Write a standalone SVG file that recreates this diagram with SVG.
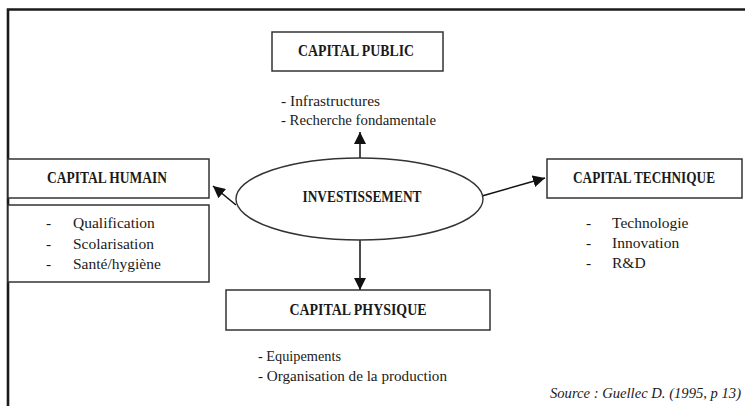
<svg xmlns="http://www.w3.org/2000/svg" width="745" height="406" viewBox="0 0 745 406">
  <style>
    .frame { fill: none; stroke: #1a1a1a; stroke-width: 2.6; }
    .box { fill: #fff; stroke: #333; stroke-width: 1.5; }
    .title { font-family: "Liberation Serif", "Times New Roman", serif; font-weight: bold; font-size: 17px; fill: #1a1a1a; text-anchor: middle; }
    .item { font-family: "Liberation Serif", "Times New Roman", serif; font-size: 15.5px; fill: #1a1a1a; }
    .note { font-family: "Liberation Serif", "Times New Roman", serif; font-style: italic; font-size: 15px; fill: #1a1a1a; }
    .link { fill: none; stroke: #111; stroke-width: 1.5; marker-end: url(#arrow); }
  </style>
  <defs>
    <marker id="arrow" viewBox="0 0 12 12" refX="12" refY="6" markerWidth="12" markerHeight="12" markerUnits="userSpaceOnUse" orient="auto">
      <path d="M0,0 L12,6 L0,12 z" fill="#111"/>
    </marker>
  </defs>

  <rect width="745" height="406" fill="#fff"/>

  <!-- outer frame, open on the right and bottom -->
  <path class="frame" d="M8,406 L8,9.5 L745,9.5"/>

  <g id="connectors">
    <line class="link" x1="360" y1="158" x2="360" y2="132"/>
    <line class="link" x1="360" y1="240" x2="360" y2="290"/>
    <line class="link" x1="236" y1="205" x2="213" y2="186"/>
    <line class="link" x1="482" y1="196" x2="545" y2="178"/>
  </g>

  <g id="investissement">
    <ellipse cx="359.5" cy="199" rx="123.5" ry="41" fill="#fff" stroke="#333" stroke-width="1.4"/>
    <text class="title" x="362" y="202" textLength="119" lengthAdjust="spacingAndGlyphs">INVESTISSEMENT</text>
  </g>

  <g id="capital-public">
    <rect class="box" x="272" y="32" width="171" height="39"/>
    <text class="title" x="356" y="56" textLength="116" lengthAdjust="spacingAndGlyphs">CAPITAL PUBLIC</text>
    <text class="item" x="281" y="106" textLength="99" lengthAdjust="spacingAndGlyphs">- Infrastructures</text>
    <text class="item" x="281" y="125" textLength="155" lengthAdjust="spacingAndGlyphs">- Recherche fondamentale</text>
  </g>

  <g id="capital-humain">
    <rect class="box" x="8" y="159" width="201" height="39"/>
    <text class="title" x="107" y="183" textLength="120" lengthAdjust="spacingAndGlyphs">CAPITAL HUMAIN</text>
    <rect class="box" x="8" y="205" width="201" height="77"/>
    <text class="item" x="46" y="228">-</text>
    <text class="item" x="73" y="228">Qualification</text>
    <text class="item" x="46" y="249">-</text>
    <text class="item" x="73" y="249">Scolarisation</text>
    <text class="item" x="46" y="269">-</text>
    <text class="item" x="73" y="269">Santé/hygiène</text>
  </g>

  <g id="capital-technique">
    <rect class="box" x="547" y="159" width="195" height="39"/>
    <text class="title" x="644" y="183" textLength="142" lengthAdjust="spacingAndGlyphs">CAPITAL TECHNIQUE</text>
    <text class="item" x="586" y="228">-</text>
    <text class="item" x="612" y="228">Technologie</text>
    <text class="item" x="586" y="248">-</text>
    <text class="item" x="612" y="248">Innovation</text>
    <text class="item" x="586" y="268">-</text>
    <text class="item" x="612" y="268">R&amp;D</text>
  </g>

  <g id="capital-physique">
    <rect class="box" x="226" y="290" width="264" height="40"/>
    <text class="title" x="358" y="315" textLength="137" lengthAdjust="spacingAndGlyphs">CAPITAL PHYSIQUE</text>
    <text class="item" x="258" y="361" textLength="83" lengthAdjust="spacingAndGlyphs">- Equipements</text>
    <text class="item" x="258" y="381" textLength="189" lengthAdjust="spacingAndGlyphs">- Organisation de la production</text>
  </g>

  <text class="note" x="550" y="398" textLength="191" lengthAdjust="spacingAndGlyphs">Source : Guellec D. (1995, p 13)</text>
</svg>
